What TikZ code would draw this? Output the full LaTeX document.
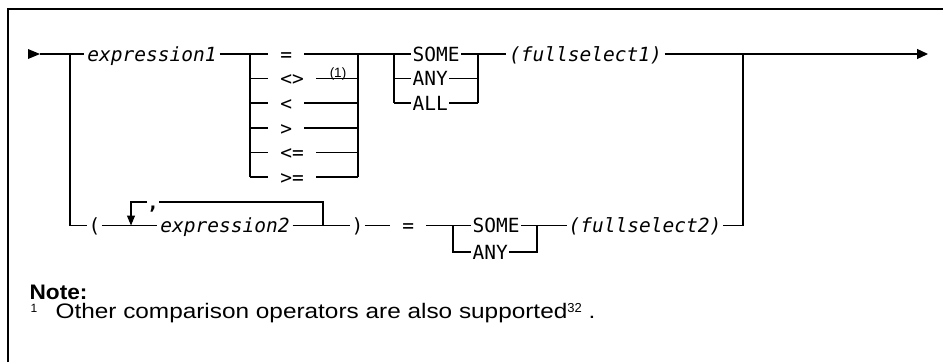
\documentclass[tikz,border=0pt]{standalone}
\usepackage{fontspec}
\usetikzlibrary{arrows.meta}
\newfontfamily\diagmono{DejaVu Sans Mono}
\newfontfamily\notesans[FakeStretch=1.16]{Liberation Sans}
\newfontfamily\notebold[FakeStretch=1.08]{Liberation Sans}
\newfontfamily\smallsans{Liberation Sans}
\begin{document}
\begin{tikzpicture}[x=1pt,y=-1pt,line width=1.2pt,
  syn/.style={font=\diagmono\fontsize{19.5}{20}\selectfont,inner xsep=1pt,inner ysep=0pt,text height=14pt,text depth=0pt,anchor=west},
  synit/.style={syn,anchor=center,font=\diagmono\itshape\fontsize{19.5}{20}\selectfont},
  opnode/.style={syn,inner xsep=11.74pt},
  tipend/.style={-{Triangle[length=11pt,width=10pt]}},
  tipdown/.style={-{Triangle[length=10pt,width=8pt]}},
  smalltext/.style={font=\smallsans\fontsize{12}{12}\selectfont,inner sep=0pt}]
\useasboundingbox (0,0) rectangle (943,362);
% frame
\draw (8,362) -- (8,9) -- (943,9);
% start arrow
\coordinate (st) at (40,54);
\fill (28,49) -- (st) -- (28,59) -- cycle;
\coordinate (bL) at (70,54);
\coordinate (bL2) at (70,225.5);
% upper row
\node[synit,minimum width=134pt] (e1) at (152,54) {expression1};
\draw (st) -- (bL) -- (e1.west);
\foreach \i/\y/\t in {1/54/{=},2/78.5/{<>},3/103/{<},4/128/{>},5/152.5/{<=},6/177/{>=}}{
  \coordinate (oL\i) at (250,\y);
  \coordinate (oR\i) at (358,\y);
  \node[opnode] (o\i) at (268,\y) {\t};
  \draw (oL\i) -- (o\i.west);
  \draw (o\i.east) -- (oR\i);
}
\draw (e1.east) -- (oL1);
\draw (oL1) -- (oL6);
\draw (oR1) -- (oR6);
\node[smalltext,font=\smallsans\fontsize{13.5}{13.5}\selectfont] (fn) at (338,74) {(1)};
% SOME / ANY / ALL
\foreach \i/\y/\t in {1/54/SOME,2/78.5/ANY,3/103/ALL}{
  \coordinate (sL\i) at (394,\y);
  \coordinate (sR\i) at (478,\y);
  \node[syn] (s\i) at (411,\y) {\t};
  \draw (sL\i) -- (s\i.west);
  \draw (s\i.east) -- (sR\i);
}
\draw (sL1) -- (sL3);
\draw (sR1) -- (sR3);
\draw (oR1) -- (sL1);
\node[synit,minimum width=157pt] (fs1) at (585.5,54) {(fullselect1)};
\draw (sR1) -- (fs1.west);
\coordinate (jR) at (743,54);
\coordinate (jR2) at (743,225.5);
\coordinate (en) at (928,54);
\draw[tipend] (fs1.east) -- (jR) -- (en);
% lower row
\draw (bL) -- (bL2);
\node[syn] (lp) at (87,225.5) {(};
\draw (bL2) -- (lp.west);
\node[synit,minimum width=134pt] (e2) at (225,225.5) {expression2};
\coordinate (lpA) at (131,202);
\coordinate (lpD) at (131,225.5);
\coordinate (lpB) at (323,202);
\coordinate (lpE) at (323,225.5);
\coordinate (cmL) at (147,202);
\coordinate (cmR) at (159,202);
\node[font=\diagmono\bfseries\fontsize{19.5}{20}\selectfont,inner sep=0pt,anchor=base] (cm) at (153,209) {,};
\draw (lp.east) -- (e2.west);
\node[syn] (rp) at (350,225.5) {)};
\draw (e2.east) -- (rp.west);
\draw (lpE) -- (lpB) -- (cmR);
\draw[tipdown] (cmL) -- (lpA) -- (lpD);
\node[opnode] (eq2) at (390,225.5) {=};
\draw (rp.east) -- (eq2.west);
\coordinate (tL1) at (453,225.5);
\coordinate (tL2) at (453,252);
\coordinate (tR1) at (537,225.5);
\coordinate (tR2) at (537,252);
\node[syn] (t1) at (471,225.5) {SOME};
\node[syn] (t2) at (471,252) {ANY};
\draw (eq2.east) -- (tL1) -- (t1.west);
\draw (tL1) -- (tL2) -- (t2.west);
\draw (t2.east) -- (tR2) -- (tR1);
\node[synit,minimum width=154pt] (fs2) at (645,225.5) {(fullselect2)};
\draw (t1.east) -- (tR1) -- (fs2.west);
\draw (fs2.east) -- (jR2) -- (jR);
% note
\node[anchor=west,font=\notebold\bfseries\fontsize{21}{21}\selectfont,inner sep=0pt] (note) at (29,292) {Note:};
\node[smalltext,anchor=base west] (n1) at (30,312) {1};
\node[anchor=base west,font=\notesans\fontsize{21}{21}\selectfont,inner sep=0pt] (nt) at (55,318) {Other comparison operators are also supported\raisebox{6pt}{\smallsans\fontsize{13}{13}\selectfont 32}\ .};
\end{tikzpicture}
\end{document}
